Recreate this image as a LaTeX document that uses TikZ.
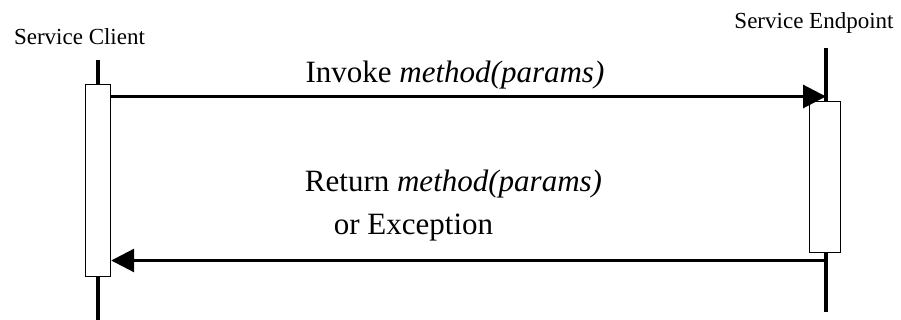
\documentclass[tikz,border=0pt]{standalone}
\usepackage{fontspec}
\setmainfont{Liberation Serif}
\usetikzlibrary{arrows.meta}
\begin{document}
\begin{tikzpicture}[x=1pt,y=-1pt,
  lifeline/.style={line width=3.5pt},
  actbox/.style={draw,line width=1.2pt,fill=white,minimum width=25pt,inner sep=0pt},
  msg/.style={line width=3pt,-{Triangle[length=23pt,width=23pt]}},
  lbl/.style={font=\fontsize{23}{27}\selectfont,inner sep=0pt},
  mlbl/.style={font=\fontsize{31}{37}\selectfont,inner sep=0pt}]
\useasboundingbox (0,0) rectangle (901,320);
% lifelines
\coordinate (cTop) at (98,60);
\coordinate (cBot) at (98,320);
\coordinate (eTop) at (826,48);
\coordinate (eBot) at (826,312);
\draw[lifeline] (cTop) -- (cBot);
\draw[lifeline] (eTop) -- (eBot);
% activation boxes
\node[actbox,minimum width=25pt,minimum height=192pt,anchor=north west] (cbox) at (85,84) {};
\node[actbox,minimum width=31pt,minimum height=151pt,anchor=north west] (ebox) at (809,101) {};
% actor labels
\node[lbl,anchor=base] (client) at (79.5,45) {Service Client};
\node[lbl,anchor=base] (endpoint) at (814,29) {Service Endpoint};
% messages
\coordinate (inv) at (eTop |- 0,96.5);
\draw[msg] (cbox.east |- inv) -- (inv);
\coordinate (ret) at (eTop |- 0,260.5);
\draw[msg] (ret) -- (cbox.east |- ret);
% message labels
\node[mlbl,anchor=base] (invlbl) at (455,83) {Invoke \textit{method(params)}};
\node[mlbl,anchor=base] (retlbl) at (453.5,192) {Return \textit{method(params)}};
\node[mlbl,anchor=base] (exlbl) at (413.5,235) {or Exception};
\end{tikzpicture}
\end{document}
